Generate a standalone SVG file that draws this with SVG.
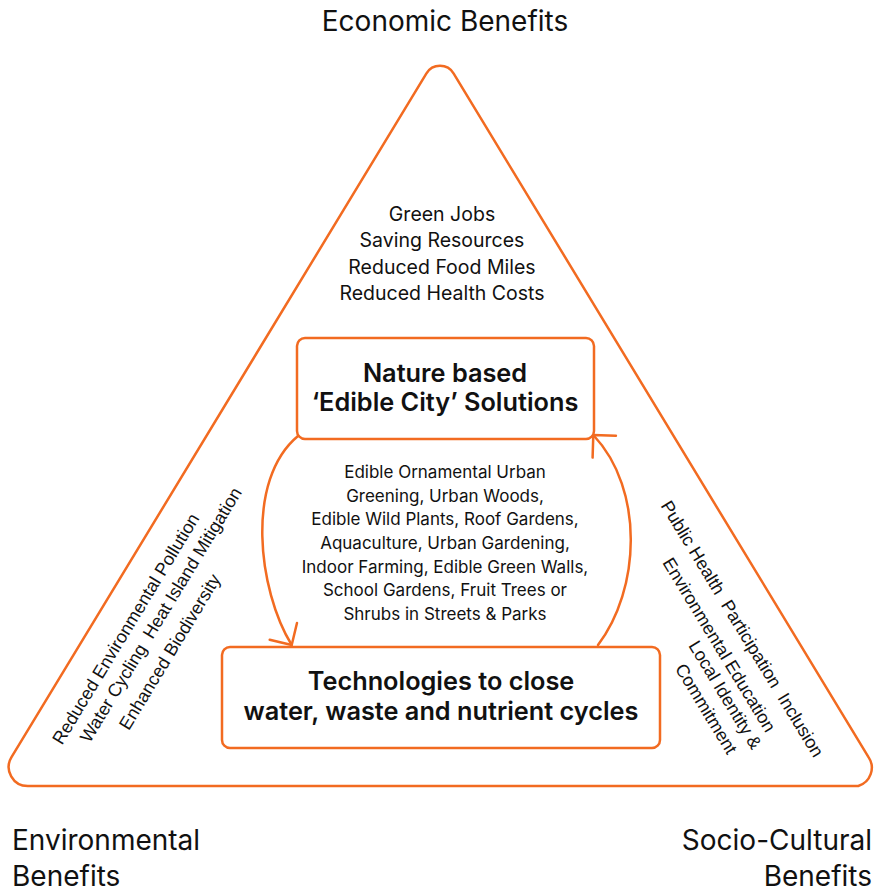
<svg xmlns="http://www.w3.org/2000/svg" width="874" height="893" viewBox="0 0 874 893">
<style>
.o{fill:none;stroke:#F26B21;stroke-width:2.5;stroke-linejoin:round;stroke-linecap:round}
.box{fill:#fff;stroke:#F26B21;stroke-width:2.5}
.t{font-family:Inter,"Liberation Sans",sans-serif;fill:#111;text-anchor:middle}
.lab{font-size:28px}
.list{font-size:19.5px}
.mid{font-size:17px}
.bold{font-size:25.3px;font-weight:600}
.rot{font-family:"Liberation Sans",Arial,sans-serif;font-size:18px;fill:#111;text-anchor:middle}
</style>
<defs>
<marker id="ah" markerUnits="userSpaceOnUse" markerWidth="40" markerHeight="40" viewBox="-20 -20 40 40" refX="0" refY="0" orient="auto">
<path d="M-16,-16 L0,0 L-16,16" fill="none" stroke="#F26B21" stroke-width="2.5" stroke-linecap="round" stroke-linejoin="round"/>
</marker>
</defs>
<rect width="874" height="893" fill="#fff"/>
<g id="triangle">
<path class="o" d="M426.3,73.6 A16,16 0 0 1 453.7,73.6 L868.5,757.15 A19,19 0 0 1 858.25,786 L27.75,786 A19,19 0 0 1 11.5,757.15 Z"/>
</g>
<g id="labels">
<text class="t lab" x="445" y="31">Economic Benefits</text>
<text class="t lab" x="12" y="850" style="text-anchor:start">Environmental</text>
<text class="t lab" x="12" y="886" style="text-anchor:start">Benefits</text>
<text class="t lab" x="872" y="850" style="text-anchor:end">Socio-Cultural</text>
<text class="t lab" x="872" y="886" style="text-anchor:end">Benefits</text>
</g>
<g id="economic">
<text class="t list" x="442" y="221">Green Jobs</text>
<text class="t list" x="442" y="247">Saving Resources</text>
<text class="t list" x="442" y="274">Reduced Food Miles</text>
<text class="t list" x="442" y="300">Reduced Health Costs</text>
</g>
<g id="environmental">
<text class="rot" transform="translate(131,632) rotate(-58.75)">Reduced Environmental Pollution</text>
<text class="rot" transform="translate(166,618) rotate(-58.75)" xml:space="preserve">Water Cycling  Heat Island Mitigation</text>
<text class="rot" transform="translate(175,655) rotate(-58.75)">Enhanced Biodiversity</text>
</g>
<g id="sociocultural">
<text class="rot" transform="translate(737,632) rotate(58.75)" xml:space="preserve">Public Health  Participation  Inclusion</text>
<text class="rot" transform="translate(714,648) rotate(58.75)">Environmental Education</text>
<text class="rot" transform="translate(720,698) rotate(58.75)">Local Identity &amp;</text>
<text class="rot" transform="translate(701,712) rotate(58.75)">Commitment</text>
</g>
<g id="connectors">
<path class="o" d="M298,436 C245,480 258,590 291.7,645" marker-end="url(#ah)"/>
<path class="o" d="M598,645 C640,590 645,490 593.3,435" marker-end="url(#ah)"/>
</g>
<g id="nbs">
<rect class="box" x="297" y="338" width="297" height="101" rx="8"/>
<text class="t bold" x="445" y="382">Nature based</text>
<text class="t bold" x="445" y="411">‘Edible City’ Solutions</text>
</g>
<g id="examples">
<text class="t mid" x="445" y="478">Edible Ornamental Urban</text>
<text class="t mid" x="445" y="501.7">Greening, Urban Woods,</text>
<text class="t mid" x="445" y="525.3">Edible Wild Plants, Roof Gardens,</text>
<text class="t mid" x="445" y="549">Aquaculture, Urban Gardening,</text>
<text class="t mid" x="445" y="572.7">Indoor Farming, Edible Green Walls,</text>
<text class="t mid" x="445" y="596.3">School Gardens, Fruit Trees or</text>
<text class="t mid" x="445" y="620">Shrubs in Streets &amp; Parks</text>
</g>
<g id="tech">
<rect class="box" x="222" y="647" width="438" height="101" rx="8"/>
<text class="t bold" x="441" y="690">Technologies to close</text>
<text class="t bold" x="441" y="720">water, waste and nutrient cycles</text>
</g>
</svg>
